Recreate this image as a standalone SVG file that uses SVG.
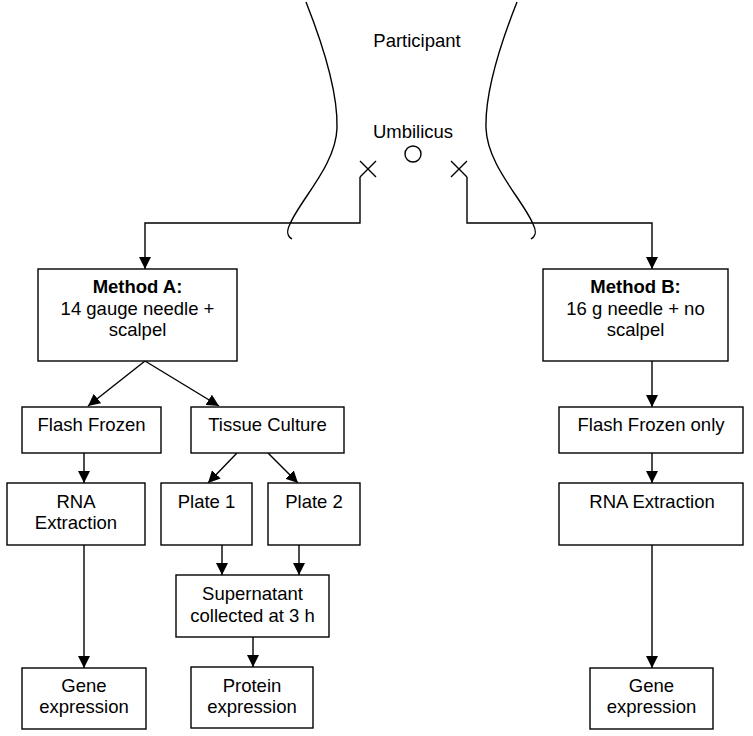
<svg xmlns="http://www.w3.org/2000/svg" width="753" height="736" viewBox="0 0 753 736">
<defs>
<marker id="arr" markerUnits="userSpaceOnUse" markerWidth="12" markerHeight="12" refX="12" refY="6" orient="auto">
<path d="M0,0 L12,6 L0,12 z" fill="#000"/>
</marker>
<style>
text{font-family:"Liberation Sans",Arial,sans-serif;font-size:18.5px;fill:#000;text-anchor:middle}
.b{font-weight:bold}
rect{fill:#fff;stroke:#000;stroke-width:1.4}
.ln{fill:none;stroke:#000;stroke-width:1.4}
.ar{fill:none;stroke:#000;stroke-width:1.4;marker-end:url(#arr)}
</style>
</defs>
<rect x="0" y="0" width="753" height="736" style="stroke:none"/>
<g id="participant">
<path class="ln" d="M306,2 C325,50 338,95 337,128 C336,165 300,200 290,224 C286,232 287,236 292,239"/>
<path class="ln" d="M517,2 C498,50 485,95 486,128 C487,165 523,200 533,224 C537,232 536,236 531,239"/>
<text x="417" y="47">Participant</text>
<text x="413" y="138">Umbilicus</text>
<circle class="ln" cx="413" cy="154" r="8"/>
<path class="ln" d="M360,161 L376,177 M376,161 L360,177"/>
<path class="ln" d="M451,161 L467,177 M467,161 L451,177"/>
</g>
<g id="connectors">
<path class="ar" d="M360,177 V223 H145 V269"/>
<path class="ar" d="M467,177 V223 H652 V269"/>
<path class="ar" d="M145,361 L88,406"/>
<path class="ar" d="M145,361 L219,406"/>
<path class="ar" d="M84,453 V483"/>
<path class="ar" d="M237,453 L208,483"/>
<path class="ar" d="M268,453 L298,483"/>
<path class="ar" d="M84,545 V668"/>
<path class="ar" d="M222,545 V575"/>
<path class="ar" d="M299,545 V575"/>
<path class="ar" d="M253,637 V667"/>
<path class="ar" d="M652,361 V407"/>
<path class="ar" d="M652,453 V483"/>
<path class="ar" d="M652,545 V668"/>
</g>
<g id="methodA">
<rect x="38" y="269" width="199" height="92"/>
<text class="b" x="137.5" y="293">Method A:</text>
<text x="137.5" y="315">14 gauge needle +</text>
<text x="137.5" y="336">scalpel</text>
</g>
<g id="flashFrozenA">
<rect x="22" y="407" width="139" height="46"/>
<text x="91.5" y="431">Flash Frozen</text>
</g>
<g id="tissueCulture">
<rect x="191" y="407" width="153" height="46"/>
<text x="267.5" y="431">Tissue Culture</text>
</g>
<g id="rnaA">
<rect x="7" y="483" width="138" height="62"/>
<text x="76" y="508">RNA</text>
<text x="76" y="529">Extraction</text>
</g>
<g id="plate1">
<rect x="161" y="483" width="91" height="62"/>
<text x="206.5" y="508">Plate 1</text>
</g>
<g id="plate2">
<rect x="268" y="483" width="92" height="62"/>
<text x="314" y="508">Plate 2</text>
</g>
<g id="supernatant">
<rect x="176" y="575" width="153" height="62"/>
<text x="252.5" y="600">Supernatant</text>
<text x="252.5" y="622">collected at 3 h</text>
</g>
<g id="geneA">
<rect x="22" y="668" width="124" height="61"/>
<text x="84" y="692">Gene</text>
<text x="84" y="713">expression</text>
</g>
<g id="protein">
<rect x="191" y="667" width="122" height="61"/>
<text x="252" y="692">Protein</text>
<text x="252" y="713">expression</text>
</g>
<g id="methodB">
<rect x="543" y="269" width="185" height="92"/>
<text class="b" x="635.5" y="293">Method B:</text>
<text x="635.5" y="315">16 g needle + no</text>
<text x="635.5" y="336">scalpel</text>
</g>
<g id="flashFrozenB">
<rect x="559" y="407" width="184" height="46"/>
<text x="651" y="431">Flash Frozen only</text>
</g>
<g id="rnaB">
<rect x="559" y="483" width="184" height="62"/>
<text x="652" y="508">RNA Extraction</text>
</g>
<g id="geneB">
<rect x="590" y="668" width="123" height="61"/>
<text x="651.5" y="692">Gene</text>
<text x="651.5" y="713">expression</text>
</g>
</svg>
